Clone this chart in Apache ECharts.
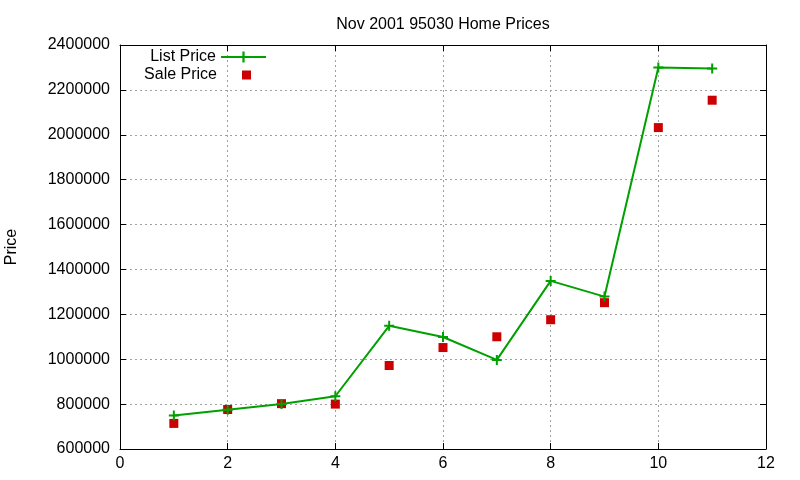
<!DOCTYPE html>
<html>
<head>
<meta charset="utf-8">
<title>Nov 2001 95030 Home Prices</title>
<script src="https://cdn.jsdelivr.net/npm/echarts@6/dist/echarts.min.js"></script>
<style>
  html, body { margin: 0; padding: 0; background: #fff; }
  #chart { width: 800px; height: 480px; }
</style>
</head>
<body>
<div id="chart"></div>
<script>
// data
const houses = [1, 2, 3, 4, 5, 6, 7, 8, 9, 10, 11];
const listPrice = [749000, 775000, 800000, 835000, 1149000, 1099000, 997000, 1349000, 1279000, 2300000, 2295000];
const salePrice = [714000, 776000, 802000, 800000, 972000, 1052000, 1100000, 1176000, 1252000, 2032000, 2154000];

const font = 'Liberation Sans, Arial, sans-serif';
const plusPath = 'path://M4,0H6V4H10V6H6V10H4V6H0V4H4Z';
// square sitting inside a 42x9 box (tiny corner specks keep the box size)
const saleIcon = 'path://M0,0L0.01,0L0.01,0.01ZM42,9L41.99,9L41.99,8.99ZM20,0H29V9H20Z';

let chart = echarts.init(document.getElementById('chart'));

// mirrored axes like gnuplot's border box
function xAxisCfg(pos, show) {
    return {
        type: 'value', position: pos, min: 0, max: 12, interval: 2,
        axisLine: { show: true, onZero: false, lineStyle: { color: '#000', width: 1 } },
        axisTick: { show: true, inside: true, length: 6, lineStyle: { color: '#000' } },
        axisLabel: { show: show, color: '#000', fontFamily: font, fontSize: 16, margin: 7 },
        splitLine: { show: show, lineStyle: { color: '#a0a0a0', type: [2, 3] } }
    };
}
function yAxisCfg(pos, show) {
    return {
        type: 'value', position: pos, min: 600000, max: 2400000, interval: 200000,
        name: show ? 'Price' : '', nameLocation: 'middle', nameGap: 100, nameRotate: 90,
        nameTextStyle: { color: '#000', fontFamily: font, fontSize: 16 },
        axisLine: { show: true, onZero: false, lineStyle: { color: '#000', width: 1 } },
        axisTick: { show: true, inside: true, length: 6, lineStyle: { color: '#000' } },
        axisLabel: {
            show: show, color: '#000', fontFamily: font, fontSize: 16, margin: 10,
            formatter: v => String(v)
        },
        splitLine: { show: show, lineStyle: { color: '#a0a0a0', type: [2, 3] } }
    };
}

chart.setOption({
    animation: false,
    backgroundColor: '#fff',
    title: {
        text: 'Nov 2001 95030 Home Prices',
        left: 438, top: 12, textAlign: 'center',
        textStyle: { color: '#000', fontFamily: font, fontSize: 16, fontWeight: 'normal' }
    },
    legend: [
        {
            data: ['List Price'], right: 533, top: 49, align: 'right',
            itemWidth: 45, itemHeight: 14, padding: 0,
            textStyle: { color: '#000', fontFamily: font, fontSize: 16 }
        },
        {
            data: [{ name: 'Sale Price', icon: saleIcon }], right: 536, top: 67, align: 'right',
            itemWidth: 42, itemHeight: 9, padding: 0,
            textStyle: { color: '#000', fontFamily: font, fontSize: 16 }
        }
    ],
    grid: { left: 120, right: 34, top: 45, bottom: 31, outerBoundsMode: 'none' },
    xAxis: [xAxisCfg('bottom', true), xAxisCfg('top', false)],
    yAxis: [yAxisCfg('left', true), yAxisCfg('right', false)],
    series: [
        {
            name: 'List Price',
            type: 'line',
            data: houses.map((h, i) => [h, listPrice[i]]),
            symbol: plusPath,
            symbolSize: 10,
            showSymbol: true,
            itemStyle: { color: '#00a000' },
            lineStyle: { color: '#00a000', width: 2 },
            z: 3
        },
        {
            name: 'Sale Price',
            type: 'scatter',
            data: houses.map((h, i) => [h, salePrice[i]]),
            symbol: 'rect',
            symbolSize: 9,
            itemStyle: { color: '#cc0000', opacity: 1 },
            z: 2
        }
    ]
});

window.addEventListener('resize', () => {
    chart.resize();
});
</script>
</body>
</html>
